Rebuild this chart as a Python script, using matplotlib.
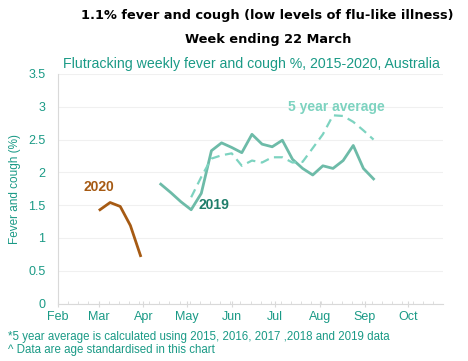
import numpy as np
import matplotlib.pyplot as plt

# ============================================================
# DATA (day of year, % fever and cough)
# ============================================================

days_2020 = [61, 68, 75, 82, 89]
vals_2020 = [1.43, 1.54, 1.48, 1.19, 0.73]

days_2019 = [103 + 7 * k for k in range(22)]
vals_2019 = [1.82, 1.69, 1.55, 1.43, 1.68, 2.33, 2.45, 2.38, 2.30, 2.58,
             2.43, 2.39, 2.49, 2.20, 2.06, 1.96, 2.10, 2.06, 2.18, 2.41,
             2.06, 1.90]

days_avg = [124 + 7 * k for k in range(19)]
vals_avg = [1.62, 1.93, 2.21, 2.26, 2.29, 2.10, 2.18, 2.15, 2.23, 2.23,
            2.15, 2.16, 2.37, 2.58, 2.87, 2.86, 2.77, 2.64, 2.50]

month_days = [32, 60, 91, 121, 152, 182, 213, 244, 274]
month_labels = ["Feb", "Mar", "Apr", "May", "Jun", "Jul", "Aug", "Sep", "Oct"]

y_ticks = [0, 0.5, 1, 1.5, 2, 2.5, 3, 3.5]
y_labels = ["0", "0.5", "1", "1.5", "2", "2.5", "3", "3.5"]

# ============================================================
# STYLE
# ============================================================

TEAL = "#1a9a86"
C2020 = "#a65a13"
C2019 = "#6dbba8"
C2019_TXT = "#1e7d6a"
CAVG = "#7dd3c0"

plt.rcParams["font.family"] = ["Liberation Sans", "DejaVu Sans"]

fig = plt.figure(figsize=(4.68, 3.61), dpi=100)
ax = fig.add_axes([58 / 468, 1 - 303.5 / 361, (443 - 58) / 468, (303.5 - 74) / 361])

ax.plot(days_2020, vals_2020, color=C2020, lw=2.0)
ax.plot(days_2019, vals_2019, color=C2019, lw=2.0)
ax.plot(days_avg, vals_avg, color=CAVG, lw=1.6, dashes=(4, 2.5))

ax.text(60.4, 1.78, "2020", color=C2020, fontsize=10, fontweight="bold",
        ha="center", va="center")
ax.text(139.5, 1.50, "2019", color=C2019_TXT, fontsize=10, fontweight="bold",
        ha="center", va="center")
ax.text(224, 2.99, "5 year average", color=CAVG, fontsize=10,
        fontweight="bold", ha="center", va="center")

ax.set_xlim(32, 298)
ax.set_ylim(0, 3.5)

ax.set_xticks(month_days)
ax.set_xticklabels(month_labels)
ax.set_xticks(np.arange(32, 298, 7), minor=True)
ax.set_yticks(y_ticks)
ax.set_yticklabels(y_labels)

ax.tick_params(axis="x", which="major", direction="inout", length=5,
               color="#d9d9d9", labelcolor=TEAL, labelsize=9, pad=3)
ax.tick_params(axis="x", which="minor", direction="in", length=2.5,
               color="#d9d9d9")
ax.tick_params(axis="y", length=0, labelcolor=TEAL, labelsize=9, pad=9)

ax.grid(axis="y", color="#f0f0f0", lw=0.8)
ax.set_axisbelow(True)

for s in ["top", "right"]:
    ax.spines[s].set_visible(False)
for s in ["left", "bottom"]:
    ax.spines[s].set_color("#d9d9d9")

ax.set_ylabel("Fever and cough (%)", color=TEAL, fontsize=8.5, labelpad=5)

# ============================================================
# TITLES / NOTES
# ============================================================

fig.text(267 / 468, 1 - 15 / 361,
         "1.1% fever and cough (low levels of flu-like illness)",
         ha="center", va="center", fontsize=9.3, fontweight="bold",
         family="DejaVu Sans")
fig.text(268 / 468, 1 - 40 / 361, "Week ending 22 March",
         ha="center", va="center", fontsize=9.3, fontweight="bold",
         family="DejaVu Sans")
fig.text(251 / 468, 1 - 64 / 361,
         "Flutracking weekly fever and cough %, 2015-2020, Australia",
         ha="center", va="center", fontsize=10.2, color=TEAL)

fig.text(8 / 468, 1 - 337 / 361,
         "*5 year average is calculated using 2015, 2016, 2017 ,2018 and 2019 data",
         ha="left", va="center", fontsize=8.3, color=TEAL)
fig.text(8 / 468, 1 - 350 / 361,
         "^ Data are age standardised in this chart",
         ha="left", va="center", fontsize=8.3, color=TEAL)

fig.savefig("out.png", dpi=100)
